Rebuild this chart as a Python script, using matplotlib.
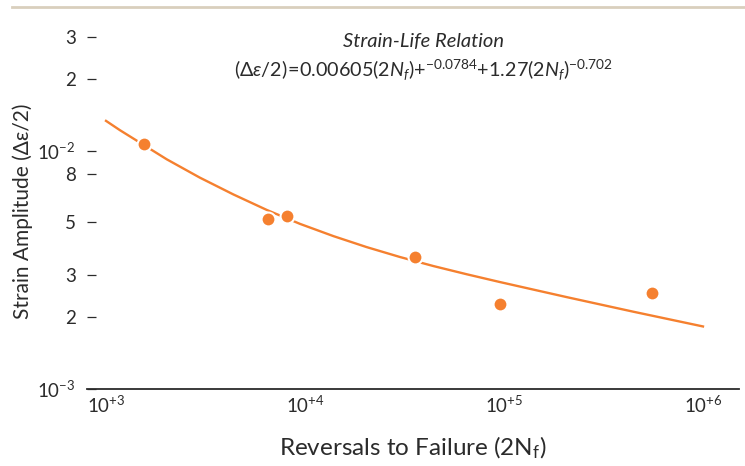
"""
Strain-life chart: measured strain amplitude vs. reversals to failure,
with the fitted strain-life curve on log-log axes.
"""

import matplotlib
matplotlib.use("Agg")
import matplotlib.pyplot as plt
from matplotlib.lines import Line2D

plt.rcParams["font.family"] = ["Lato", "DejaVu Sans"]
plt.rcParams["mathtext.fontset"] = "custom"
plt.rcParams["mathtext.rm"] = "Lato"
plt.rcParams["mathtext.it"] = "Lato:italic"
plt.rcParams["mathtext.bf"] = "Lato:bold"

ORANGE = "#f5802f"
DARK = "#2b2b2b"

# test data
reversals = [1550, 6540, 8090, 35600, 95700, 555000]
strain_amp = [0.01064, 0.00515, 0.00530, 0.00357, 0.00228, 0.00253]

# fitted strain-life curve
fit_reversals = [1000, 1175, 2020, 2960, 4370, 6430, 9440, 13900, 20400,
                 30000, 44200, 65000, 95500, 206500, 447000, 1000000]
fit_strain = [0.01334, 0.01219, 0.00920, 0.00771, 0.00655, 0.00564, 0.00493,
              0.00438, 0.00394, 0.00358, 0.00328, 0.00303, 0.00281,
              0.00243, 0.00211, 0.00183]

x_ticks = [1e3, 1e4, 1e5, 1e6]
x_labels = [r"$\mathdefault{10^{+3}}$", r"$\mathdefault{10^{+4}}$",
            r"$\mathdefault{10^{+5}}$", r"$\mathdefault{10^{+6}}$"]
y_ticks = [1e-3, 2e-3, 3e-3, 5e-3, 8e-3, 1e-2, 2e-2, 3e-2]
y_labels = [r"$\mathdefault{10^{-3}}$", "2", "3", "5", "8",
            r"$\mathdefault{10^{-2}}$", "2", "3"]

fig = plt.figure(figsize=(7.45, 4.66), dpi=100)
ax = fig.add_axes([87 / 745, 77 / 466, 652 / 745, 369 / 466])

line, = ax.plot(fit_reversals, fit_strain, color=ORANGE, linewidth=1.7,
                zorder=2)
line.set_solid_joinstyle("round")
ax.plot(reversals, strain_amp, linestyle="none", marker="o", markersize=10,
        markerfacecolor=ORANGE, markeredgecolor="white", markeredgewidth=1.5,
        zorder=3)

ax.set_xscale("log")
ax.set_yscale("log")
ax.set_xlim(10 ** 2.9045, 10 ** 6.181)
ax.set_ylim(1e-3, 0.03535)

ax.set_xticks(x_ticks)
ax.set_xticklabels(x_labels)
ax.set_xticks([], minor=True)
ax.set_yticks(y_ticks)
ax.set_yticklabels(y_labels)
ax.set_yticks([], minor=True)

ax.tick_params(axis="x", length=0, pad=4, labelsize=13.5, colors=DARK)
ax.tick_params(axis="y", direction="in", length=6.5, width=0.9, pad=8,
               labelsize=13.5, colors=DARK)

for side in ["top", "right", "left"]:
    ax.spines[side].set_visible(False)
ax.spines["bottom"].set_color(DARK)
ax.spines["bottom"].set_linewidth(1.3)

ax.set_xlabel(r"Reversals to Failure (2N$_\mathdefault{f}$)", fontsize=17.5,
              color=DARK, labelpad=14)
ax.set_ylabel(r"Strain Amplitude (Δε/2)", fontsize=15, color=DARK)
ax.yaxis.set_label_coords(-0.0828, 0.482)

fig.text(0.569, 0.912, "Strain-Life Relation", fontsize=14.5, style="italic",
         ha="center", va="center", color=DARK)
fig.text(0.569, 0.851,
         r"$\mathit{(\Delta\varepsilon/2)\!=\!0.00605(2N_f){+}^{-0.0784}{+}1.27(2N_f)^{-0.702}}$",
         fontsize=14.2, ha="center", va="center", color=DARK)

# thin rule across the top of the figure
fig.add_artist(Line2D([12 / 745, 1.0], [1 - 7 / 466, 1 - 7 / 466],
                      color="#d9cfbd", linewidth=2, transform=fig.transFigure))

fig.savefig("out.png", dpi=100, facecolor="white")
